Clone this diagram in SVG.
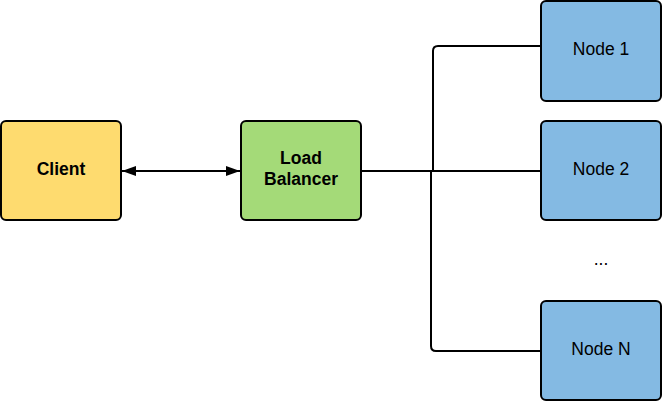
<svg xmlns="http://www.w3.org/2000/svg" width="663" height="403" viewBox="0 0 663 403">
<style>
.box{stroke:#000;stroke-width:2}
.client{fill:#fedb6f}
.lb{fill:#a4da78}
.node{fill:#84baE3}
.lbl{font-family:"Liberation Sans",Arial,sans-serif;font-size:17.5px;fill:#000;text-anchor:middle}
.b{font-weight:bold}
.conn{fill:none;stroke:#000;stroke-width:2}
</style>
<defs>
<marker id="ah" viewBox="0 0 14 10" refX="14" refY="5" markerWidth="14" markerHeight="10" markerUnits="userSpaceOnUse" orient="auto-start-reverse">
<path d="M0,0 L14,5 L0,10 Z" fill="#000"/>
</marker>
</defs>
<rect width="663" height="403" fill="#fff"/>
<g id="connectors">
<line class="conn" x1="122" y1="171" x2="240" y2="171" marker-start="url(#ah)" marker-end="url(#ah)"/>
<line class="conn" x1="361" y1="171" x2="541" y2="171"/>
<path class="conn" d="M433,171 V51 Q433,46 438,46 H541"/>
<path class="conn" d="M431,171 V346 Q431,351 436,351 H541"/>
</g>
<g id="client">
<rect class="box client" x="1" y="121" width="120" height="99" rx="5"/>
<text class="lbl b" x="61" y="174.5">Client</text>
</g>
<g id="load-balancer">
<rect class="box lb" x="241" y="121" width="120" height="99" rx="5"/>
<text class="lbl b" x="301" y="164">Load</text>
<text class="lbl b" x="301" y="185">Balancer</text>
</g>
<g id="node1">
<rect class="box node" x="541" y="1" width="120" height="100" rx="5"/>
<text class="lbl" x="601" y="55">Node 1</text>
</g>
<g id="node2">
<rect class="box node" x="541" y="121" width="120" height="99" rx="5"/>
<text class="lbl" x="601" y="175">Node 2</text>
</g>
<g id="ellipsis">
<text class="lbl" x="601" y="265">...</text>
</g>
<g id="nodeN">
<rect class="box node" x="541" y="301" width="120" height="99" rx="5"/>
<text class="lbl" x="601" y="355">Node N</text>
</g>
</svg>
